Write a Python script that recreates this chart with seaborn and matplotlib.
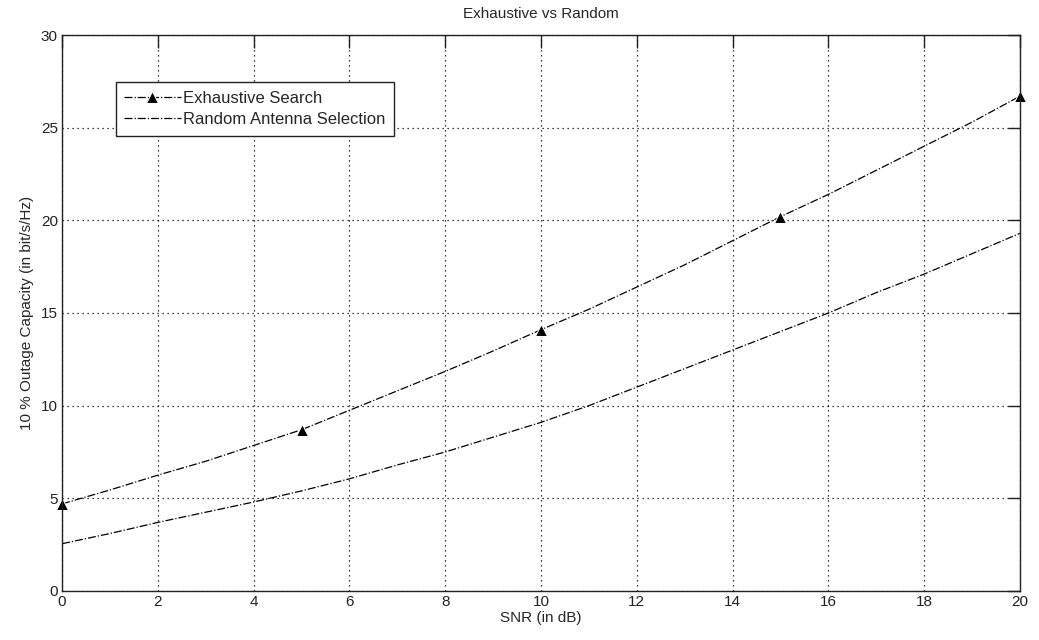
import matplotlib
matplotlib.use("Agg")
import matplotlib.pyplot as plt
import seaborn as sns
import numpy as np
import pandas as pd

# values
snr_db = list(range(0, 21))
exhaustive = [4.7, 5.45, 6.25, 7.0, 7.85, 8.7, 9.75, 10.8, 11.85, 12.95, 14.1,
              15.2, 16.4, 17.6, 18.9, 20.2, 21.4, 22.7, 24.0, 25.3, 26.7]
random_sel = [2.55, 3.1, 3.7, 4.25, 4.8, 5.4, 6.05, 6.8, 7.5, 8.3, 9.1,
              10.0, 11.0, 12.0, 13.0, 14.0, 15.0, 16.1, 17.1, 18.2, 19.3]

df = pd.DataFrame({"snr": snr_db, "exh": exhaustive, "rnd": random_sel})

sns.set_style("white")
plt.rcParams['font.family'] = ['Liberation Sans', 'DejaVu Sans']
fs = 11

fig = plt.figure(figsize=(10.39, 6.4), dpi=100)
ax = fig.add_axes([0.0597, 0.0766, 0.9220, 0.8687])

sns.lineplot(data=df, x="snr", y="exh", ax=ax, color="black", lw=0.9,
             linestyle="-.", marker="^", markersize=9, markevery=5,
             label="Exhaustive Search", clip_on=False)
sns.lineplot(data=df, x="snr", y="rnd", ax=ax, color="black", lw=0.9,
             linestyle="-.", label="Random Antenna Selection")

ax.set_xlim(0, 20)
ax.set_ylim(0, 30)
ax.set_xticks(range(0, 21, 2))
ax.set_yticks(range(0, 31, 5))
ax.grid(True, linestyle=(0, (1, 3)), color="black", linewidth=0.9)
ax.tick_params(direction="in", top=True, right=True, length=9, width=1,
               labelsize=fs, colors="#222222", pad=3)
for s in ax.spines.values():
    s.set_color("#222222")
    s.set_linewidth(1.0)

ax.set_title("Exhaustive vs Random", fontsize=fs, pad=12)
ax.set_xlabel("SNR (in dB)", fontsize=fs, labelpad=1)
ax.set_ylabel("10 % Outage Capacity (in bit/s/Hz)", fontsize=fs, labelpad=5)

leg = ax.legend(loc="upper left", bbox_to_anchor=(0.056, 0.915), borderaxespad=0,
                fancybox=False, framealpha=1, edgecolor="#222222",
                fontsize=12, handlelength=3.4, handletextpad=0.15,
                labelspacing=0.4, borderpad=0.5)
leg.get_frame().set_linewidth(1.0)

fig.savefig("out.png", dpi=100)
